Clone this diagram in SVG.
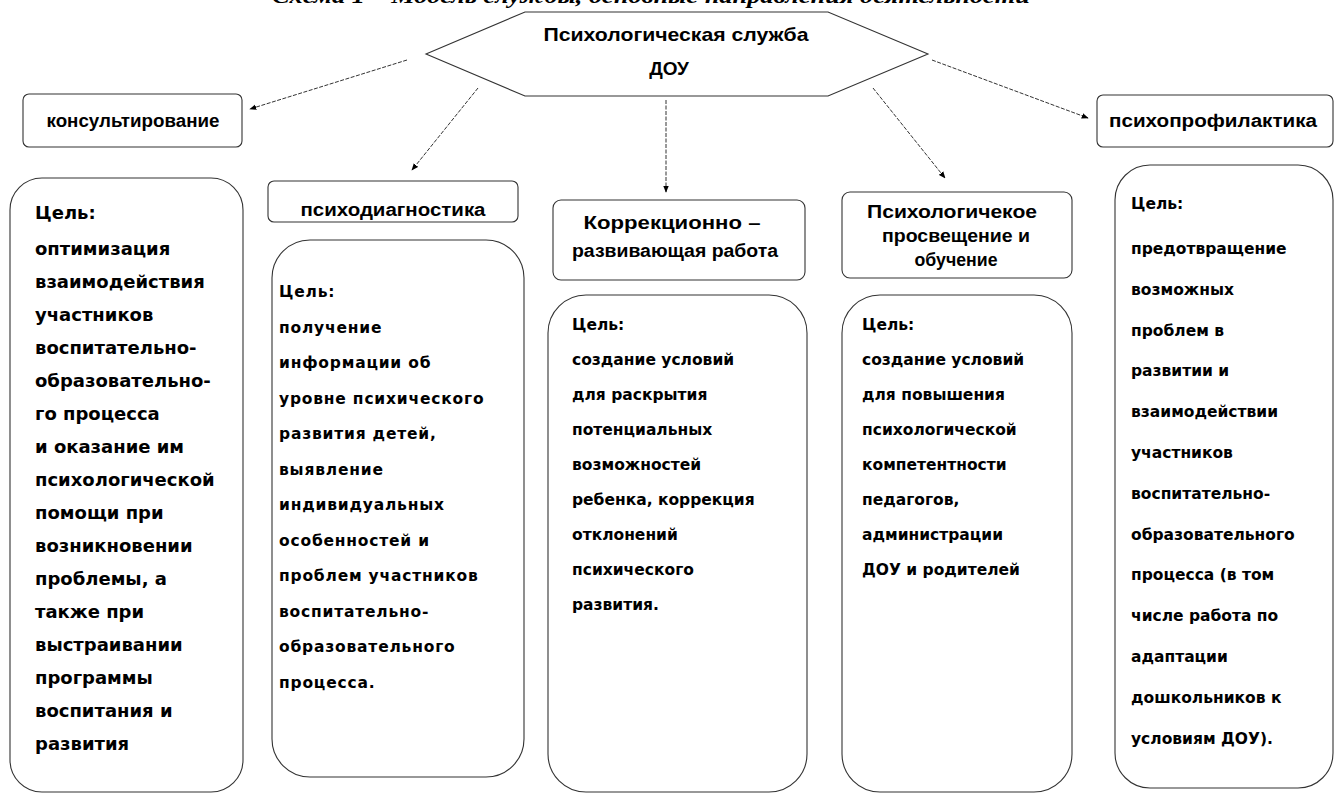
<svg xmlns="http://www.w3.org/2000/svg" width="1335" height="794" viewBox="0 0 1335 794">
<defs>
<style>
.box{fill:#fff;stroke:#333;stroke-width:1.1}
.lbl{font-family:"Liberation Sans",Arial,sans-serif;font-weight:bold;font-size:18px;fill:#000;text-anchor:middle}
.hub{font-family:"Liberation Sans",Arial,sans-serif;font-weight:bold;font-size:19px;fill:#000;text-anchor:middle}
.big{font-family:"DejaVu Sans",Verdana,sans-serif;font-weight:bold;font-size:18px;fill:#000}
.mid{font-family:"DejaVu Sans",Verdana,sans-serif;font-weight:bold;font-size:15.5px;fill:#000}
.con{fill:none;stroke:#333;stroke-width:1;stroke-dasharray:4 1.5}
.cap{font-family:"Liberation Serif","Times New Roman",serif;font-style:italic;font-weight:bold;font-size:22px;fill:#000}
</style>
<marker id="ah" viewBox="0 0 10 10" refX="9" refY="5" markerWidth="7" markerHeight="7" orient="auto" markerUnits="userSpaceOnUse">
<path d="M0,1 L10,5 L0,9 z" fill="#000"/>
</marker>
</defs>
<rect width="1335" height="794" fill="#fff"/>
<text class="cap" x="272" y="3" textLength="758" lengthAdjust="spacingAndGlyphs">Схема 1 – Модель службы, основные направления деятельности</text>

<g id="connectors">
<line class="con" x1="407" y1="60" x2="250" y2="109" marker-end="url(#ah)"/>
<line class="con" x1="478" y1="88" x2="412" y2="170" marker-end="url(#ah)"/>
<line class="con" x1="666" y1="100" x2="666" y2="192" marker-end="url(#ah)"/>
<line class="con" x1="873" y1="88" x2="945" y2="178" marker-end="url(#ah)"/>
<line class="con" x1="932" y1="60" x2="1088" y2="118" marker-end="url(#ah)"/>
</g>

<g id="hub">
<polygon class="box" points="426,54 525,12 828,12 928,54 828,96 525,96"/>
<text class="hub" x="676" y="41" textLength="265" lengthAdjust="spacingAndGlyphs">Психологическая служба</text>
<text class="hub" x="669" y="75">ДОУ</text>
</g>

<g id="konsult">
<rect class="box" x="23" y="94" width="219" height="53" rx="6"/>
<text class="lbl" x="133" y="127" textLength="173" lengthAdjust="spacingAndGlyphs">консультирование</text>
</g>
<g id="konsult-goal">
<rect class="box" x="10" y="178" width="233" height="614" rx="32"/>
<text class="big" x="35" y="219">
<tspan x="35" dy="0">Цель:</tspan>
<tspan x="35" dy="36">оптимизация</tspan>
<tspan x="35" dy="33">взаимодействия</tspan>
<tspan x="35" dy="33">участников</tspan>
<tspan x="35" dy="33">воспитательно-</tspan>
<tspan x="35" dy="33">образовательно-</tspan>
<tspan x="35" dy="33">го процесса</tspan>
<tspan x="35" dy="33">и оказание им</tspan>
<tspan x="35" dy="33">психологической</tspan>
<tspan x="35" dy="33">помощи при</tspan>
<tspan x="35" dy="33">возникновении</tspan>
<tspan x="35" dy="33">проблемы, а</tspan>
<tspan x="35" dy="33">также при</tspan>
<tspan x="35" dy="33">выстраивании</tspan>
<tspan x="35" dy="33">программы</tspan>
<tspan x="35" dy="33">воспитания и</tspan>
<tspan x="35" dy="33">развития</tspan>
</text>
</g>

<g id="diag">
<rect class="box" x="268" y="181" width="250" height="41" rx="6"/>
<text class="lbl" x="393" y="216" textLength="185" lengthAdjust="spacingAndGlyphs">психодиагностика</text>
</g>
<g id="diag-goal">
<rect class="box" x="272" y="240" width="252" height="537" rx="38"/>
<text class="mid" x="279" y="297" letter-spacing="0.8">
<tspan x="279" dy="0">Цель:</tspan>
<tspan x="279" dy="35.5">получение</tspan>
<tspan x="279" dy="35.5">информации об</tspan>
<tspan x="279" dy="35.5">уровне психического</tspan>
<tspan x="279" dy="35.5">развития детей,</tspan>
<tspan x="279" dy="35.5">выявление</tspan>
<tspan x="279" dy="35.5">индивидуальных</tspan>
<tspan x="279" dy="35.5">особенностей и</tspan>
<tspan x="279" dy="35.5">проблем участников</tspan>
<tspan x="279" dy="35.5">воспитательно-</tspan>
<tspan x="279" dy="35.5">образовательного</tspan>
<tspan x="279" dy="35.5">процесса.</tspan>
</text>
</g>

<g id="korr">
<rect class="box" x="553" y="200" width="252" height="80" rx="8"/>
<text class="lbl" x="672" y="229" textLength="177" lengthAdjust="spacingAndGlyphs">Коррекционно –</text>
<text class="lbl" x="675" y="257" textLength="206" lengthAdjust="spacingAndGlyphs">развивающая  работа</text>
</g>
<g id="korr-goal">
<rect class="box" x="548" y="295" width="259" height="497" rx="38"/>
<text class="mid" x="572" y="330">
<tspan x="572" dy="0">Цель:</tspan>
<tspan x="572" dy="35">создание  условий</tspan>
<tspan x="572" dy="35">для раскрытия</tspan>
<tspan x="572" dy="35">потенциальных</tspan>
<tspan x="572" dy="35">возможностей</tspan>
<tspan x="572" dy="35">ребенка, коррекция</tspan>
<tspan x="572" dy="35">отклонений</tspan>
<tspan x="572" dy="35">психического</tspan>
<tspan x="572" dy="35">развития.</tspan>
</text>
</g>

<g id="prosv">
<rect class="box" x="842" y="192" width="230" height="86" rx="8"/>
<text class="lbl" x="952" y="218" textLength="170" lengthAdjust="spacingAndGlyphs">Психологичекое</text>
<text class="lbl" x="956" y="242" textLength="148" lengthAdjust="spacingAndGlyphs">просвещение  и</text>
<text class="lbl" x="956" y="266" textLength="83" lengthAdjust="spacingAndGlyphs">обучение</text>
</g>
<g id="prosv-goal">
<rect class="box" x="842" y="295" width="230" height="497" rx="38"/>
<text class="mid" x="862" y="330">
<tspan x="862" dy="0">Цель:</tspan>
<tspan x="862" dy="35">создание  условий</tspan>
<tspan x="862" dy="35">для повышения</tspan>
<tspan x="862" dy="35">психологической</tspan>
<tspan x="862" dy="35">компетентности</tspan>
<tspan x="862" dy="35">педагогов,</tspan>
<tspan x="862" dy="35">администрации</tspan>
<tspan x="862" dy="35">ДОУ и родителей</tspan>
</text>
</g>

<g id="prof">
<rect class="box" x="1097" y="95" width="236" height="52" rx="6"/>
<text class="lbl" x="1213" y="127" textLength="208" lengthAdjust="spacingAndGlyphs">психопрофилактика</text>
</g>
<g id="prof-goal">
<rect class="box" x="1115" y="165" width="218" height="623" rx="35"/>
<text class="mid" x="1131" y="209">
<tspan x="1131" dy="0">Цель:</tspan>
<tspan x="1131" dy="45">предотвращение</tspan>
<tspan x="1131" dy="40.8">возможных</tspan>
<tspan x="1131" dy="40.8">проблем в</tspan>
<tspan x="1131" dy="40.8">развитии и</tspan>
<tspan x="1131" dy="40.8">взаимодействии</tspan>
<tspan x="1131" dy="40.8">участников</tspan>
<tspan x="1131" dy="40.8">воспитательно-</tspan>
<tspan x="1131" dy="40.8">образовательного</tspan>
<tspan x="1131" dy="40.8">процесса (в том</tspan>
<tspan x="1131" dy="40.8">числе работа по</tspan>
<tspan x="1131" dy="40.8">адаптации</tspan>
<tspan x="1131" dy="40.8">дошкольников  к</tspan>
<tspan x="1131" dy="40.8">условиям ДОУ).</tspan>
</text>
</g>
</svg>
